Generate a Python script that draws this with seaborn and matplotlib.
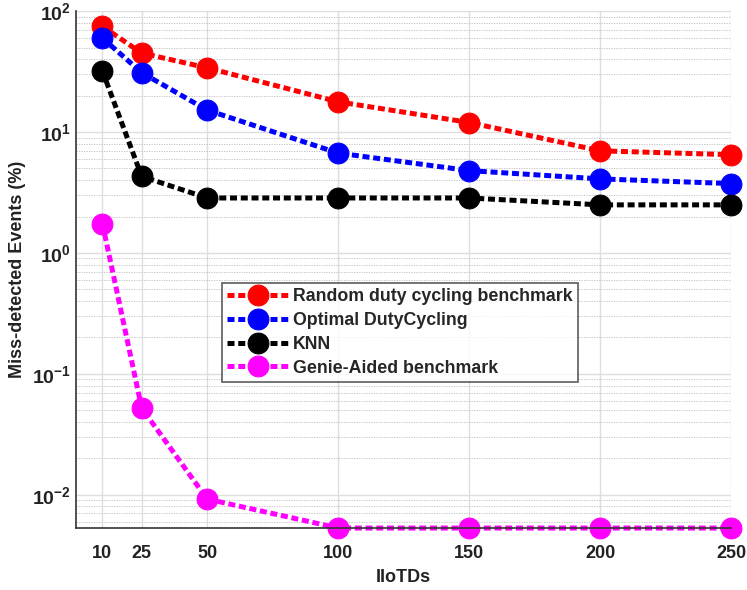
import numpy as np
import pandas as pd
import matplotlib
matplotlib.use("Agg")
import matplotlib.pyplot as plt
import seaborn as sns
from matplotlib.ticker import LogLocator, NullFormatter, NullLocator

# valores
iiotds = [10, 25, 50, 100, 150, 200, 250]
random_duty = [75, 45, 34, 17.8, 12.0, 7.0, 6.5]
optimal_duty = [60, 31, 15.2, 6.7, 4.8, 4.1, 3.75]
knn = [32, 4.3, 2.85, 2.85, 2.85, 2.5, 2.5]
genie = [1.75, 0.052, 0.0092, 0.0053, 0.0053, 0.0053, 0.0053]

nomes = ["Random duty cycling benchmark", "Optimal DutyCycling", "KNN", "Genie-Aided benchmark"]
cores = ["#ff0000", "#0000ff", "#000000", "#ff00ff"]
series = [random_duty, optimal_duty, knn, genie]

df = pd.DataFrame({"IIoTDs": iiotds})
for nome, valores in zip(nomes, series):
    df[nome] = valores

sns.set_style("white")
plt.rcParams['font.family'] = ['Liberation Sans', 'DejaVu Sans']
plt.rcParams['mathtext.fontset'] = 'custom'
plt.rcParams['mathtext.rm'] = 'Liberation Sans'
plt.rcParams['mathtext.bf'] = 'Liberation Sans:bold'

fig = plt.figure(figsize=(7.47, 5.9), dpi=100)
ax = fig.add_axes([0.102, 0.105, 0.877, 0.876])

for nome, cor in zip(nomes, cores):
    sns.lineplot(data=df, x="IIoTDs", y=nome, ax=ax, color=cor, label=nome,
                 marker="o", markersize=15, markeredgecolor=cor, linewidth=3.6,
                 dashes=False, clip_on=False)
    ax.lines[-1].set_dashes([1.4, 0.75])

ax.set_yscale("log")
ax.set_xlim(0, 250)
ax.set_ylim(0.0053, 100)
ax.set_xticks(iiotds)
ax.xaxis.set_minor_locator(NullLocator())
ax.yaxis.set_major_locator(LogLocator(base=10, numticks=10))
ax.yaxis.set_minor_locator(LogLocator(base=10, subs=np.arange(2, 10), numticks=20))
ax.yaxis.set_minor_formatter(NullFormatter())

ax.grid(True, which="major", color="#dedede", linewidth=1.0, linestyle="-")
ax.grid(True, which="minor", axis="y", color="#bbbbbb", linewidth=0.6, linestyle=(0, (1.5, 1.5)))
ax.set_axisbelow(True)

for lado in ["top", "right"]:
    ax.spines[lado].set_visible(False)
for lado in ["left", "bottom"]:
    ax.spines[lado].set_color("#333333")
    ax.spines[lado].set_linewidth(1.2)

ax.tick_params(axis="both", which="major", direction="in", length=5, labelsize=13, colors="#222222")
ax.tick_params(axis="x", which="major", pad=12)
ax.tick_params(axis="y", which="major", pad=4, labelsize=14)
ax.tick_params(axis="y", which="minor", direction="in", length=3, color="#222222")
for t in ax.get_xticklabels() + ax.get_yticklabels():
    t.set_fontweight("bold")

ax.set_xlabel("IIoTDs", fontsize=13, fontweight="bold", color="#222222", labelpad=5)
ax.set_ylabel("Miss-detected Events (%)", fontsize=13, fontweight="bold", color="#222222", labelpad=4)

leg = ax.legend(loc="upper left", bbox_to_anchor=(222 / 747, 1 - 283 / 590),
                bbox_transform=fig.transFigure, fontsize=12.8, frameon=True,
                fancybox=False, edgecolor="#333333", handlelength=3.4,
                borderpad=0.3, labelspacing=0.38, handletextpad=0.3, borderaxespad=0)
leg.get_frame().set_linewidth(1.2)
for t in leg.get_texts():
    t.set_fontweight("bold")

fig.savefig("out.png", dpi=100)
